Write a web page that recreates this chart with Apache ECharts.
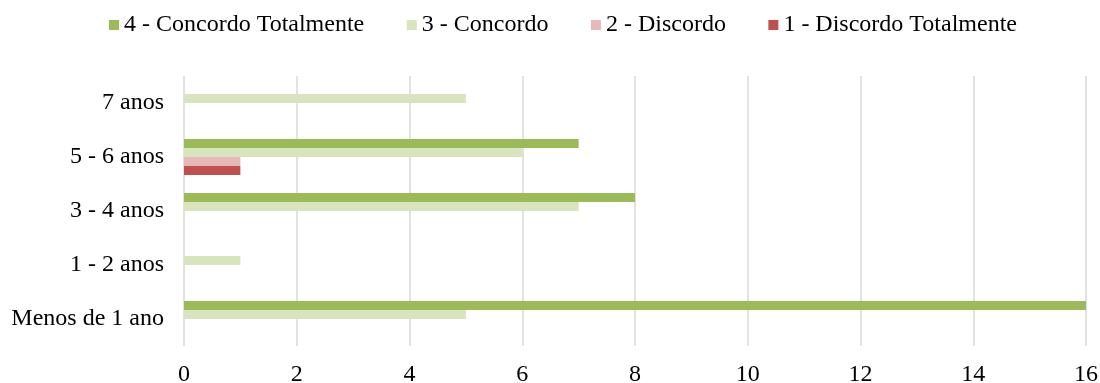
<!DOCTYPE html>
<html>
<head>
<meta charset="utf-8">
<script src="https://cdn.jsdelivr.net/npm/echarts@6/dist/echarts.min.js"></script>
<style>
  html, body { margin: 0; padding: 0; background: #ffffff; }
  #chart { width: 1100px; height: 383px; }
</style>
</head>
<body>
<div id="chart"></div>
<script>
// Tempo de experiência (eixo de categorias, de baixo para cima)
const categories = ['Menos de 1 ano', '1 - 2 anos', '3 - 4 anos', '5 - 6 anos', '7 anos'];

// Número de respostas por nível de concordância
const seriesNames = ['4 - Concordo Totalmente', '3 - Concordo', '2 - Discordo', '1 - Discordo Totalmente'];
const concordoTotalmente = [16, 0, 8, 7, 0];
const concordo = [5, 1, 7, 6, 5];
const discordo = [0, 0, 0, 1, 0];
const discordoTotalmente = [0, 0, 0, 1, 0];

const colors = ['#9BBB59', '#D7E4BD', '#E6B9B8', '#C0504D'];
const valueTicks = [0, 2, 4, 6, 8, 10, 12, 14, 16];

const font = '"Liberation Serif", "Times New Roman", serif';
const chart = echarts.init(document.getElementById('chart'), null, { renderer: 'canvas' });

const seriesData = [concordoTotalmente, concordo, discordo, discordoTotalmente];

chart.setOption({
  animation: false,
  backgroundColor: '#ffffff',
  color: colors,
  textStyle: { fontFamily: font },
  legend: {
    top: 8,
    left: 104,
    itemWidth: 10,
    itemHeight: 10,
    itemGap: 42.5,
    icon: 'rect',
    data: seriesNames,
    textStyle: { fontFamily: font, fontSize: 24, color: '#000000' }
  },
  grid: {
    left: 184,
    right: 14,
    top: 76,
    bottom: 37,
    containLabel: false,
    outerBoundsMode: 'none'
  },
  xAxis: {
    type: 'value',
    min: valueTicks[0],
    max: valueTicks[valueTicks.length - 1],
    interval: 2,
    axisLine: { show: false },
    axisTick: { show: false },
    splitLine: { show: true, lineStyle: { color: '#D9D9D9', width: 1.5 } },
    axisLabel: { margin: 17, fontFamily: font, fontSize: 24, color: '#000000' }
  },
  yAxis: {
    type: 'category',
    data: categories,
    axisLine: { show: false },
    axisTick: { show: false },
    axisLabel: { margin: 20, fontFamily: font, fontSize: 24, color: '#000000' }
  },
  series: seriesNames.map((name, i) => ({
    name: name,
    type: 'bar',
    data: seriesData[i],
    barWidth: 9,
    barGap: '0%',
    itemStyle: { color: colors[i] }
  }))
});
</script>
</body>
</html>
